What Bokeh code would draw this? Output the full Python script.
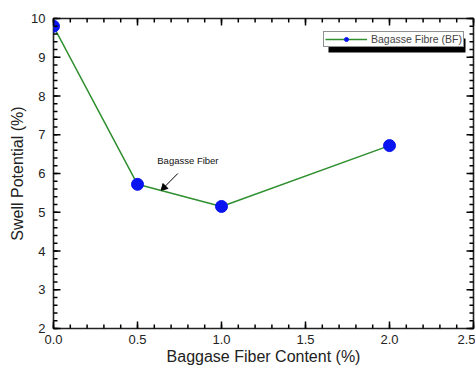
import numpy as np
from bokeh.plotting import figure
from bokeh.models import (Range1d, Legend, LegendItem, FixedTicker, BoxAnnotation,
                          Label, PrintfTickFormatter)
from bokeh.embed import file_html
from bokeh.resources import INLINE

fiber_content = [0.0, 0.5, 1.0, 2.0]
swell_potential = [9.8, 5.72, 5.15, 6.72]
series_name = "Bagasse Fibre (BF)"
annotation_text = "Bagasse Fiber"
x_label = "Baggase Fiber Content (%)"
y_label = "Swell Potential (%)"
x_major = [0.0, 0.5, 1.0, 1.5, 2.0, 2.5]
y_major = [2.0, 3.0, 4.0, 5.0, 6.0, 7.0, 8.0, 9.0, 10.0]

FONT = "Liberation Sans"
AX = "#222222"
TICK = "#000000"

x_minor = [float(v) for v in np.round(np.arange(0, 2.5001, 0.1), 3)]
y_minor = [float(v) for v in np.round(np.arange(2, 10.0001, 0.2), 3)]

p = figure(width=475, height=367, output_backend="svg", toolbar_location=None,
           x_range=Range1d(0, 2.5), y_range=Range1d(2, 10),
           min_border_left=53, min_border_right=2, min_border_top=18, min_border_bottom=39,
           x_axis_label=x_label, y_axis_label=y_label)
p.grid.visible = False
p.outline_line_color = AX
p.outline_line_width = 1.6

for ax, ticks in ((p.xaxis[0], x_major), (p.yaxis[0], y_major)):
    ax.ticker = FixedTicker(ticks=ticks)
    ax.axis_line_color = None
    ax.major_tick_line_color = None
    ax.minor_tick_line_color = None
    ax.major_tick_out = 0
    ax.major_tick_in = 0
    ax.minor_tick_out = 0
    ax.minor_tick_in = 0
    ax.major_label_text_font = FONT
    ax.major_label_text_font_size = "13px"
    ax.major_label_text_color = AX
    ax.axis_label_text_font = FONT
    ax.axis_label_text_font_size = "16px"
    ax.axis_label_text_font_style = "normal"
    ax.axis_label_text_color = AX
p.xaxis[0].formatter = PrintfTickFormatter(format="%.1f")
p.xaxis[0].major_label_standoff = 6
p.xaxis[0].axis_label_standoff = 1
p.yaxis[0].major_label_standoff = 8
p.yaxis[0].axis_label_standoff = 2

ln = p.line(fiber_content, swell_potential, line_color="#2f8f2f", line_width=1.5)
sc = p.scatter(fiber_content, swell_potential, size=12, fill_color="#0a14f0",
               line_color="#0a14f0")

# annotation pointer (line + triangular head drawn as glyphs)
arrow_start = (0.74, 6.0)
arrow_end = (0.646, 5.59)
p.segment(x0=[arrow_start[0]], y0=[arrow_start[1]], x1=[arrow_end[0] + 0.006],
          y1=[arrow_end[1] + 0.025], line_color="black", line_width=1)
p.scatter(x=[arrow_end[0] + 0.012], y=[arrow_end[1] + 0.05], marker="triangle",
          size=7, angle=3 * np.pi / 4, fill_color="black", line_color="black")

shadow = BoxAnnotation(left=275, right=412, top=290, bottom=276,
                       left_units="screen", right_units="screen",
                       top_units="screen", bottom_units="screen",
                       fill_color="black", fill_alpha=1, line_color=None)
p.add_layout(shadow)

legend = Legend(items=[LegendItem(label=series_name, renderers=[ln, sc])],
                location=(270, 281), label_text_font=FONT, label_text_font_size="10.5px",
                glyph_width=42, glyph_height=10, padding=1, margin=0,
                label_standoff=4, label_height=10,
                border_line_color=AX, border_line_width=1,
                background_fill_color="white", background_fill_alpha=1)
p.add_layout(legend)

p.add_layout(Label(x=0.8, y=6.34, text=annotation_text, text_font=FONT,
                   text_font_size="9.5px", text_align="center", text_baseline="middle",
                   text_color="#111111"))

# inward ticks on all four sides, short rays of fixed screen length, drawn last
for xs, L in ((x_minor, 4), (x_major, 7)):
    n = len(xs)
    p.ray(x=xs, y=[2.0] * n, length=L, angle=np.pi / 2, length_units="screen",
          line_color=TICK, line_width=1.5, level="overlay")
    p.ray(x=xs, y=[10.0] * n, length=L, angle=-np.pi / 2, length_units="screen",
          line_color=TICK, line_width=1.5, level="overlay")
for ys, L in ((y_minor, 4), (y_major, 7)):
    n = len(ys)
    p.ray(x=[0.0] * n, y=ys, length=L, angle=0.0, length_units="screen",
          line_color=TICK, line_width=1.5, level="overlay")
    p.ray(x=[2.5] * n, y=ys, length=L, angle=np.pi, length_units="screen",
          line_color=TICK, line_width=1.5, level="overlay")

open("out.html", "w").write(file_html(p, INLINE))
